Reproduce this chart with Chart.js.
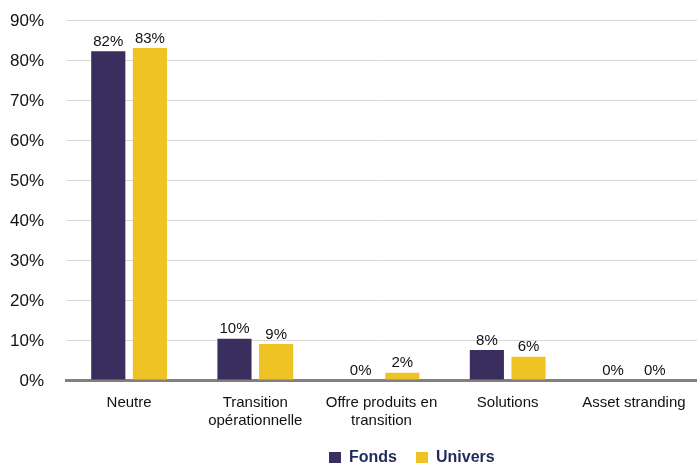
<!DOCTYPE html>
<html>
<head>
<meta charset="utf-8">
<script src="https://cdn.jsdelivr.net/npm/chart.js@4"></script>
<style>
    html, body { margin: 0; padding: 0; background: #fff; }
    #wrap { width: 697px; height: 465px; }
</style>
</head>
<body>
<div id="wrap"><canvas id="chart"></canvas></div>
<script>
var categories = ["Neutre", ["Transition", "opérationnelle"], ["Offre produits en", "transition"], "Solutions", "Asset stranding"];
var fonds = [82.2, 10.3, 0, 7.5, 0];
var univers = [83, 9, 1.8, 5.8, 0];
var fondsLabels = ["82%", "10%", "0%", "8%", "0%"];
var universLabels = ["83%", "9%", "2%", "6%", "0%"];
var seriesNames = ["Fonds", "Univers"];
var seriesColors = ["#3a2e5f", "#f0c325"];

var barLabels = {
    id: "barLabels",
    afterDatasetsDraw: function (chart) {
        var ctx = chart.ctx;
        var texts = [fondsLabels, universLabels];
        ctx.save();
        ctx.font = "15px 'Liberation Sans', Arial, sans-serif";
        ctx.fillStyle = "#111";
        ctx.textAlign = "center";
        ctx.textBaseline = "bottom";
        chart.data.datasets.forEach(function (ds, i) {
            chart.getDatasetMeta(i).data.forEach(function (bar, j) {
                ctx.fillText(texts[i][j], bar.x, bar.y - 2);
            });
        });
        ctx.restore();
    }
};

// y tick labels: drawn from the scale's own ticks, kept 22px off the plot
var yLabels = {
    id: "yLabels",
    afterDraw: function (chart) {
        var ctx = chart.ctx;
        var scale = chart.scales.y;
        ctx.save();
        ctx.font = "17px 'Liberation Sans', Arial, sans-serif";
        ctx.fillStyle = "#111";
        ctx.textAlign = "right";
        ctx.textBaseline = "middle";
        scale.ticks.forEach(function (t) {
            ctx.fillText(t.value + "%", chart.chartArea.left - 22, scale.getPixelForValue(t.value) + 1);
        });
        ctx.restore();
    }
};

// legend drawn by hand, offset to the right like the original
var bottomLegend = {
    id: "bottomLegend",
    afterDraw: function (chart) {
        var ctx = chart.ctx;
        var xs = [329, 416];
        var y = 457;
        ctx.save();
        ctx.font = "bold 16px 'Liberation Sans', Arial, sans-serif";
        ctx.textBaseline = "middle";
        ctx.textAlign = "left";
        seriesNames.forEach(function (name, i) {
            ctx.fillStyle = seriesColors[i];
            ctx.fillRect(xs[i], y - 5, 12, 11);
            ctx.fillStyle = "#1f2a5c";
            ctx.fillText(name, xs[i] + 20, y + 1);
        });
        ctx.restore();
    }
};

var ctx = document.getElementById("chart");
var chart = new Chart(ctx, {
    type: "bar",
    data: {
        labels: categories,
        datasets: [{
            label: seriesNames[0],
            data: fonds,
            backgroundColor: seriesColors[0]
        }, {
            label: seriesNames[1],
            data: univers,
            backgroundColor: seriesColors[1]
        }]
    },
    options: {
        responsive: true,
        maintainAspectRatio: false,
        animation: false,
        categoryPercentage: 0.66,
        barPercentage: 0.82,
        layout: {
            padding: { left: 6, right: 0, top: 20, bottom: 29 }
        },
        scales: {
            x: {
                grid: { display: false },
                border: { color: "#808080", width: 3 },
                ticks: {
                    color: "#111",
                    font: { family: "'Liberation Sans', Arial, sans-serif", size: 15 },
                    padding: 6,
                    maxRotation: 0,
                    autoSkip: false
                }
            },
            y: {
                min: 0,
                max: 90,
                grid: { color: "#d9d9d9", lineWidth: 1, drawTicks: false },
                border: { display: false },
                afterFit: function (scale) { scale.width = 60; },
                ticks: { stepSize: 10, display: false }
            }
        },
        plugins: {
            legend: { display: false },
            tooltip: { enabled: false }
        }
    },
    plugins: [barLabels, yLabels, bottomLegend]
});
</script>
</body>
</html>
